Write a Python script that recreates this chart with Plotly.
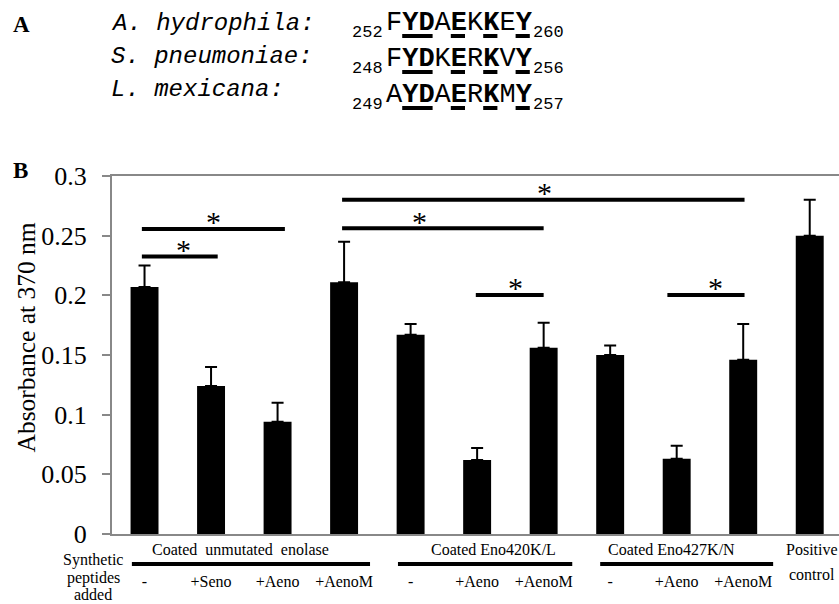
import plotly.graph_objects as go

# ---------------- data ----------------
categories = ["-", "+Seno", "+Aeno", "+AenoM", "-", "+Aeno", "+AenoM", "-", "+Aeno", "+AenoM", ""]
absorbance = [0.207, 0.124, 0.094, 0.211, 0.167, 0.062, 0.156, 0.150, 0.063, 0.146, 0.250]
error_plus = [0.018, 0.016, 0.016, 0.034, 0.009, 0.010, 0.021, 0.008, 0.011, 0.030, 0.030]
y_ticks = [0, 0.05, 0.1, 0.15, 0.2, 0.25, 0.3]

group_labels = ["Coated&nbsp;&nbsp;unmutated&nbsp;&nbsp;enolase", "Coated Eno420K/L", "Coated Eno427K/N"]
group_start = [-0.19, 3.81, 6.85]
group_end = [3.39, 6.43, 9.45]
group_center = [1.44, 5.24, 7.92]

# significance comparisons (bar-index units, absorbance units)
sig_x0 = [-0.04, -0.04, 2.97, 2.97, 4.98, 7.86]
sig_x1 = [1.10, 2.11, 6.00, 9.02, 6.00, 9.02]
sig_y = [0.2325, 0.2556, 0.2562, 0.2800, 0.2003, 0.2003]
sig_star_x = [0.59, 1.03, 4.13, 6.01, 5.57, 8.59]

# panel A
species = ["A. hydrophila:", "S. pneumoniae:", "L. mexicana:"]
seq_start = ["252", "248", "249"]
seq_end = ["260", "256", "257"]
sequences = ["FYDAEKKEY", "FYDKERKVY", "AYDAERKMY"]
conserved = [1, 2, 4, 6, 8]

# ---------------- layout helpers ----------------
L, T, W, H = 112, 176, 727, 358
FIG_W, FIG_H = 839, 604
SERIF = "Liberation Serif, Times New Roman, serif"
MONO = "Courier New, Liberation Mono, monospace"


def pxx(x):
    return (x - L) / W


def pxy(y):
    return (T + H - y) / H


def mid_serif(baseline, size):
    return baseline - 0.3375 * size


def mid_mono(baseline, size):
    return baseline - 0.2665 * size


fig = go.Figure()
fig.add_trace(go.Bar(
    x=list(range(len(categories))), y=absorbance, width=0.42,
    marker=dict(color="black", line=dict(width=0)),
    error_y=dict(type="data", symmetric=False, array=error_plus,
                 arrayminus=[0] * len(error_plus), color="black",
                 thickness=2, width=6),
    showlegend=False, hoverinfo="skip",
))

shapes = []
annotations = []

# significance brackets
for x0, x1, y, sx in zip(sig_x0, sig_x1, sig_y, sig_star_x):
    shapes.append(dict(type="line", xref="x", yref="y", x0=x0, x1=x1, y0=y, y1=y,
                       line=dict(color="black", width=4)))
    annotations.append(dict(xref="x", yref="y", x=sx, y=y, text="*", showarrow=False,
                            xanchor="center", yanchor="middle", yshift=7, borderpad=0,
                            font=dict(family=SERIF, size=30, color="#000000")))

# group lines + labels
for lab, a, b, c in zip(group_labels, group_start, group_end, group_center):
    shapes.append(dict(type="line", xref="x", yref="paper", x0=a, x1=b,
                       y0=pxy(564), y1=pxy(564), line=dict(color="black", width=4)))
    annotations.append(dict(xref="x", yref="paper", x=c, y=pxy(mid_serif(555, 16)),
                            text=lab, showarrow=False, xanchor="center", yanchor="middle",
                            borderpad=0, font=dict(family=SERIF, size=16, color="black")))

annotations.append(dict(xref="x", yref="paper", x=10.04, y=pxy(mid_serif(555, 16)),
                        text="Positive", showarrow=False, xanchor="center", yanchor="middle",
                        borderpad=0, font=dict(family=SERIF, size=16, color="black")))
annotations.append(dict(xref="x", yref="paper", x=10.04, y=pxy(mid_serif(580, 16)),
                        text="control", showarrow=False, xanchor="center", yanchor="middle",
                        borderpad=0, font=dict(family=SERIF, size=16, color="black")))

for txt, base in zip(["Synthetic", "peptides", "added"], [565, 583, 600]):
    annotations.append(dict(xref="paper", yref="paper", x=pxx(93), y=pxy(mid_serif(base, 16)),
                            text=txt, showarrow=False, xanchor="center", yanchor="middle",
                            borderpad=0, font=dict(family=SERIF, size=16, color="black")))

# y title
annotations.append(dict(xref="paper", yref="paper", x=pxx(26), y=pxy(337.5),
                        text="Absorbance at 370 nm", textangle=-90, showarrow=False,
                        xanchor="center", yanchor="middle", borderpad=0,
                        font=dict(family=SERIF, size=25.5, color="black")))

# panel letters
annotations.append(dict(xref="paper", yref="paper", x=pxx(12), y=pxy(mid_serif(32, 23)),
                        text="<b>A</b>", showarrow=False, xanchor="left", yanchor="middle",
                        borderpad=0, font=dict(family=SERIF, size=23, color="black")))
annotations.append(dict(xref="paper", yref="paper", x=pxx(12), y=pxy(mid_serif(178, 23)),
                        text="<b>B</b>", showarrow=False, xanchor="left", yanchor="middle",
                        borderpad=0, font=dict(family=SERIF, size=23, color="black")))

# panel A text
SP_SIZE, SEQ_SIZE, SUB_SIZE = 24, 27, 17
sp_base = [30, 63, 96]
seq_base = [30, 66, 102]
seq_x = 385
cw = 0.6 * SEQ_SIZE
for i in range(3):
    annotations.append(dict(xref="paper", yref="paper", x=pxx(110), y=pxy(mid_mono(sp_base[i], SP_SIZE)),
                            text="<i>" + species[i] + "</i>", showarrow=False, xanchor="left",
                            yanchor="middle", borderpad=0,
                            font=dict(family=MONO, size=SP_SIZE, color="black")))
    seq_txt = "".join("<b>%s</b>" % ch if j in conserved else ch for j, ch in enumerate(sequences[i]))
    annotations.append(dict(xref="paper", yref="paper", x=pxx(seq_x), y=pxy(mid_mono(seq_base[i], SEQ_SIZE)),
                            text=seq_txt, showarrow=False, xanchor="left",
                            yanchor="middle", borderpad=0,
                            font=dict(family=MONO, size=SEQ_SIZE, color="black")))
    annotations.append(dict(xref="paper", yref="paper", x=pxx(seq_x - 1), y=pxy(mid_mono(seq_base[i] + 7, SUB_SIZE)),
                            text=seq_start[i], showarrow=False, xanchor="right",
                            yanchor="middle", borderpad=0,
                            font=dict(family=MONO, size=SUB_SIZE, color="black")))
    annotations.append(dict(xref="paper", yref="paper", x=pxx(seq_x + cw * len(sequences[i]) + 1),
                            y=pxy(mid_mono(seq_base[i] + 7, SUB_SIZE)),
                            text=seq_end[i], showarrow=False, xanchor="left",
                            yanchor="middle", borderpad=0,
                            font=dict(family=MONO, size=SUB_SIZE, color="black")))
    # underlines for conserved residues
    runs = []
    for j in conserved:
        if runs and runs[-1][1] == j - 1:
            runs[-1][1] = j
        else:
            runs.append([j, j])
    for a, b in runs:
        shapes.append(dict(type="line", xref="paper", yref="paper",
                           x0=pxx(seq_x + a * cw + 1), x1=pxx(seq_x + (b + 1) * cw - 1),
                           y0=pxy(seq_base[i] + 6), y1=pxy(seq_base[i] + 6),
                           line=dict(color="black", width=4)))

fig.update_layout(
    width=FIG_W, height=FIG_H,
    margin=dict(l=L, r=FIG_W - L - W, t=T, b=FIG_H - T - H, pad=0),
    plot_bgcolor="white", paper_bgcolor="white",
    bargap=0.5,
    shapes=shapes, annotations=annotations,
    xaxis=dict(range=[-0.489, 10.44], tickmode="array", tickvals=list(range(len(categories))),
               ticktext=categories, showline=True, linecolor="#888888", linewidth=2,
               mirror=True, ticks="", showgrid=False, zeroline=False,
               tickfont=dict(family=SERIF, size=16, color="black"), ticklabelstandoff=32),
    yaxis=dict(range=[0, 0.3], tickmode="array", tickvals=y_ticks, showline=True,
               linecolor="#888888", linewidth=2, ticks="outside", ticklen=8,
               tickcolor="#888888", tickwidth=2, showgrid=False, zeroline=False,
               tickfont=dict(family=SERIF, size=26, color="black"), ticklabelstandoff=10),
    font=dict(family=SERIF, color="black"),
)

fig.write_html("out.html")
